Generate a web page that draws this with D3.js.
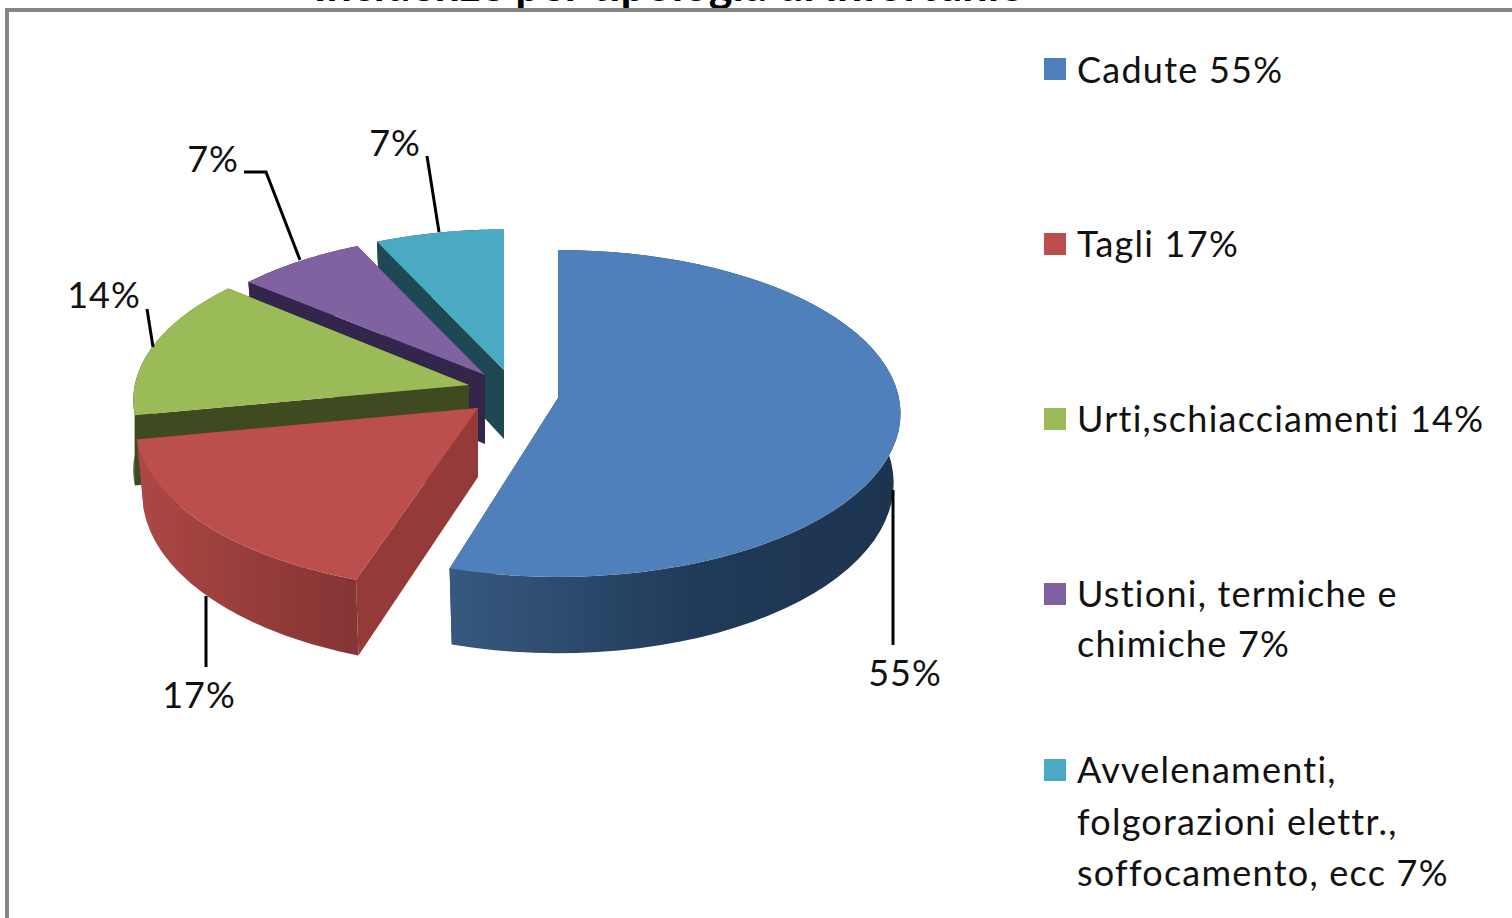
<!DOCTYPE html>
<html><head><meta charset="utf-8">
<script src="https://cdn.jsdelivr.net/npm/d3@7/dist/d3.min.js"></script>
<style>html,body{margin:0;padding:0;background:#fff;overflow:hidden}svg{display:block}text{font-family:Lato,"Open Sans",sans-serif;fill:#111}</style>
</head><body><svg id="c" width="1512" height="918"></svg>
<script>
// ---- data ----
const categories = ["Cadute","Tagli","Urti,schiacciamenti","Ustioni, termiche e chimiche","Avvelenamenti, folgorazioni elettr., soffocamento, ecc"];
const values = [55,17,14,7,7];
const titleText = "Incidenze per tipologia di infortunio";
const legendLines = [["Cadute 55%"],["Tagli 17%"],["Urti,schiacciamenti 14%"],["Ustioni, termiche e","chimiche 7%"],["Avvelenamenti,","folgorazioni elettr.,","soffocamento, ecc 7%"]];
const topColors = ["#4f80bc","#bc4e4b","#9bbb59","#8062a0","#4aa9c3"];
const wallColors = ["#1d3350","#943b3a","#3f4a20","#32264a","#1d4854"];
const rimStops = [["#37597f","#203a59","#1d3350"],["#ad4846","#953c3a","#843534"],["#3f4a20","#3f4a20","#3f4a20"],["#32264a","#32264a","#32264a"],["#1d4854","#1d4854","#1d4854"]];

// ---- layout ----
const RX=341, RY=162, K=0.095, H=69;
const bottomFactors=[0.98,0.98,1,0.98,0.98];
const apexes=[[558,398],[478,408],[469,385],[485,375],[504,370]];
const radiusFactors=[[1,1],[1,1.02],[0.98,0.98],[0.955,0.955],[0.95,0.95]];
const angleNudgesDeg=[[0,-1.2],[1,0],[0,0.6],[0,0],[0,0]];
const legendSwatchY=[58,233,408,583,759];
const legendBaseY=[83,257,432,607,783];
const legendLineGap=[51,51,51,50,51.5];
const labelPos=[[905,686],[199,708],[104,308],[213,172],[395,156]];
const leaders=[[[893,490],[893,645]],[[206,596],[206,667]],[[147,309],[153,347]],[[244,172],[266,172],[300,260]],[[427,156],[439,232]]];

const svg=d3.select("#c");
const defs=svg.append("defs");
const pie=d3.pie().sort(null).value(d=>d);
const arcs=pie(values);
const rad=Math.PI/180;

function proj(i,a,down){
  const apex=apexes[i], f=radiusFactors[i];
  const u=Math.sin(a),v=Math.cos(a),w=1+K*v;
  const s=down?bottomFactors[i]:1;
  return [apex[0]+s*f[0]*RX*u/w, apex[1]-f[1]*RY*v/w+(down?H/w:0)];
}
const line=d3.line();

// back-to-front painter order
[4,3,2,1,0].forEach(i=>{
  const d=arcs[i], ap=apexes[i];
  const a0=d.startAngle+angleNudgesDeg[i][0]*rad, a1=d.endAngle+angleNudgesDeg[i][1]*rad;
  const as=d3.quantize(d3.interpolateNumber(a0,a1),61);
  const apDown=[ap[0],ap[1]+H];
  const g=svg.append("g");
  // radial cut faces
  [a0,a1].forEach(a=>{
    g.append("path").attr("fill",wallColors[i])
     .attr("d",line([ap,proj(i,a,false),proj(i,a,true),apDown])+"Z");
  });
  // rim wall
  const gid="rim"+i;
  const lg=defs.append("linearGradient").attr("id",gid);
  rimStops[i].forEach((c,j)=>lg.append("stop").attr("offset",[0,0.55,1][j]).attr("stop-color",c));
  const rim=as.map(a=>proj(i,a,false)).concat(as.slice().reverse().map(a=>proj(i,a,true)));
  g.append("path").attr("fill",`url(#${gid})`).attr("d",line(rim)+"Z");
  // top face
  const top=[ap].concat(as.map(a=>proj(i,a,false)));
  g.append("path").attr("fill",topColors[i]).attr("d",line(top)+"Z");
});

// leader lines
leaders.forEach(p=>svg.append("path").attr("d",line(p)).attr("fill","none").attr("stroke","#000").attr("stroke-width",3));

// data labels
values.forEach((v,i)=>svg.append("text").attr("x",labelPos[i][0]).attr("y",labelPos[i][1])
  .attr("text-anchor","middle").attr("font-size",36).attr("letter-spacing",1).text(v+"%"));

// legend
legendLines.forEach((ls,i)=>{
  svg.append("rect").attr("x",1044).attr("y",legendSwatchY[i]).attr("width",22).attr("height",22).attr("fill",topColors[i]);
  ls.forEach((t,j)=>svg.append("text").attr("x",1077).attr("y",legendBaseY[i]+j*legendLineGap[i]).attr("font-size",36).attr("letter-spacing",1.25).text(t));
});

// title (clipped by the page top)
svg.append("text").attr("x",1025).attr("y",1).attr("text-anchor","end").attr("font-size",45).attr("font-weight",700).style("fill","#000").text(titleText);

// frame
svg.append("path").attr("d","M7,918V10H1512").attr("fill","none").attr("stroke","#868686").attr("stroke-width",4);
</script></body></html>
